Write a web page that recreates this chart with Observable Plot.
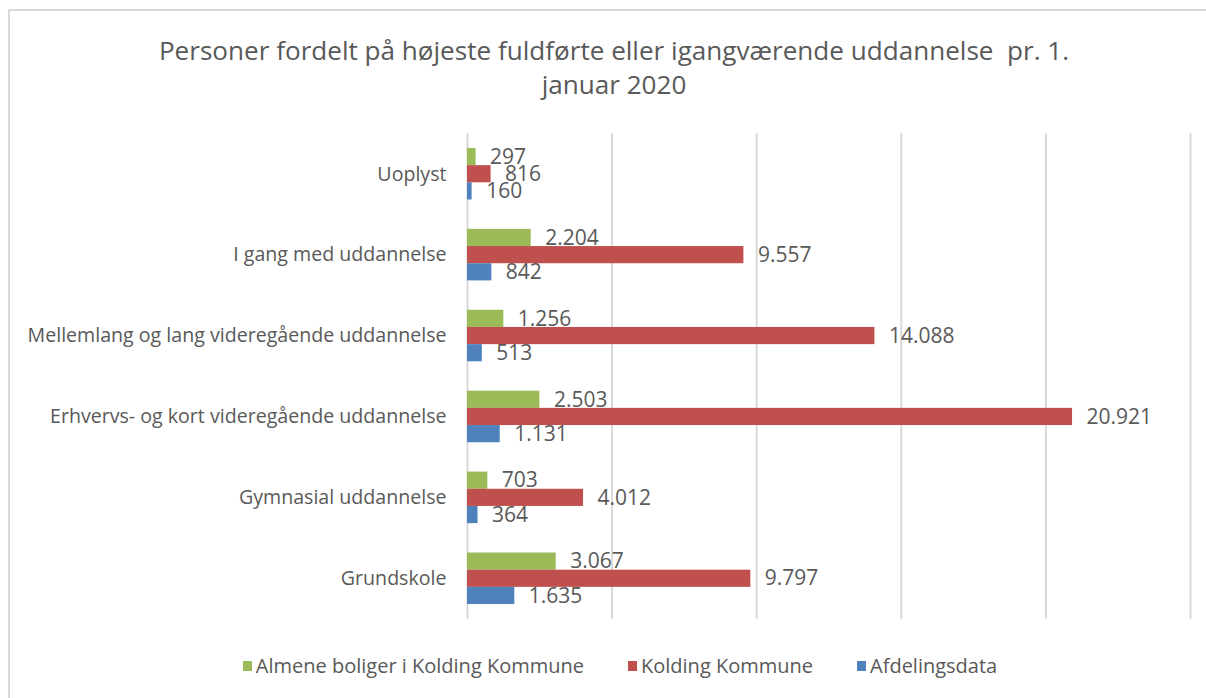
<!DOCTYPE html>
<html>
<head>
<meta charset="utf-8">
<script src="https://cdn.jsdelivr.net/npm/d3@7"></script>
<script src="https://cdn.jsdelivr.net/npm/@observablehq/plot@0.6"></script>
<style>
  html, body { margin: 0; padding: 0; background: #fff; overflow: hidden; width: 1206px; height: 698px; }
  #frame { position: absolute; left: 8px; top: 9px; width: 1300px; height: 800px; border-left: 2px solid #d9d9d9; border-top: 2px solid #d9d9d9; }
  #title { position: absolute; left: 0; top: 33px; width: 1228px; text-align: center; font-family: "Open Sans", sans-serif; font-size: 26.1px; line-height: 34px; color: #595959; }
  #chart { position: absolute; left: 0; top: 120px; }
  #legend { position: absolute; left: 0; top: 652px; width: 1240px; display: flex; justify-content: center; font-family: "Open Sans", sans-serif; font-size: 20px; line-height: 27px; color: #595959; }
  .item { display: flex; align-items: center; margin: 0 22px; }
  .sw { width: 9px; height: 10px; margin-right: 4px; }
</style>
</head>
<body>
<div id="frame"></div>
<div id="title">Personer fordelt på højeste fuldførte eller igangværende uddannelse&nbsp; pr. 1.<br>januar 2020</div>
<div id="chart"></div>
<div id="legend"></div>
<script>
const categories = [
  "Uoplyst",
  "I gang med uddannelse",
  "Mellemlang og lang videregående uddannelse",
  "Erhvervs- og kort videregående uddannelse",
  "Gymnasial uddannelse",
  "Grundskole"
];
const seriesNames = ["Almene boliger i Kolding Kommune", "Kolding Kommune", "Afdelingsdata"];
const seriesColors = ["#9BBB59", "#C0504D", "#4F81BD"];
const almene = [297, 2204, 1256, 2503, 703, 3067];
const kolding = [816, 9557, 14088, 20921, 4012, 9797];
const afdeling = [160, 842, 513, 1131, 364, 1635];
const xTicks = [0, 5000, 10000, 15000, 20000, 25000];

const seriesValues = [almene, kolding, afdeling];
const data = [];
seriesNames.forEach((s, si) => categories.forEach((c, ci) => data.push({cat: c, series: s, si, value: seriesValues[si][ci]})));

const fmt = d3.formatLocale({decimal: ",", thousands: ".", grouping: [3], currency: ["", " kr."]}).format(",d");

const height = 520, marginTop = 13, marginBottom = 21;
const paddingInner = 0.363, paddingOuter = 0.185;
const range = height - marginTop - marginBottom;
const step = range / (categories.length - paddingInner + 2 * paddingOuter);
const bw = step * (1 - paddingInner);
const barH = bw / 3;

const marks = [
  Plot.ruleX(xTicks, {stroke: "#d9d9d9", strokeWidth: 2})
];
seriesNames.forEach((s, si) => {
  const sub = data.filter(d => d.si === si);
  marks.push(Plot.barX(sub, {
    x: "value", y: "cat", fill: seriesColors[si],
    insetTop: si * barH, insetBottom: (2 - si) * barH
  }));
  marks.push(Plot.text(sub, {
    x: "value", y: "cat", text: d => fmt(d.value),
    dx: 14, dy: (si - 1) * barH, textAnchor: "start",
    fill: "#595959", fontSize: 21
  }));
});

const chart = Plot.plot({
  width: 1206,
  height,
  marginTop, marginBottom,
  marginLeft: 467, marginRight: 16,
  style: {fontFamily: "'Open Sans', sans-serif", fontSize: "19.6px", color: "#595959", background: "transparent"},
  x: {domain: [0, 25000], axis: null},
  y: {domain: categories, paddingInner, paddingOuter, round: false, tickSize: 0, tickPadding: 21, label: null},
  marks
});
document.getElementById("chart").appendChild(chart);

const legend = document.getElementById("legend");
seriesNames.forEach((s, i) => {
  const item = document.createElement("div");
  item.className = "item";
  const sw = document.createElement("div");
  sw.className = "sw";
  sw.style.background = seriesColors[i];
  const t = document.createElement("span");
  t.textContent = s;
  item.appendChild(sw); item.appendChild(t);
  legend.appendChild(item);
});
</script>
</body>
</html>
